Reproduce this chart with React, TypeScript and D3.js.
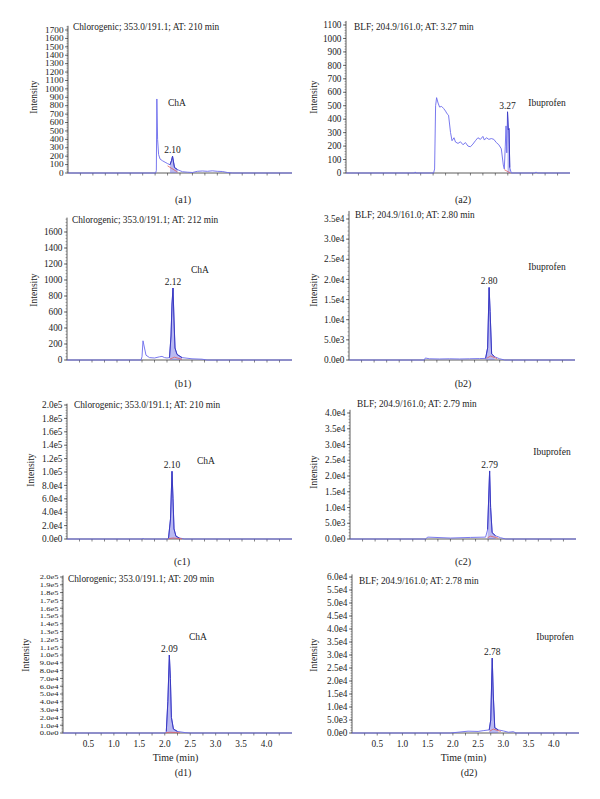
import React from "react";
import * as d3 from "d3";

type Pt = [number, number];

// ---- data (time in min, intensity) ----
const a1Trace: Pt[] = [[0,0],[1.76,0],[1.775,30],[1.785,880],[1.80,400],[1.82,220],[1.85,165],[1.9,145],[1.95,128],[2.0,112],[2.05,98],[2.08,150],[2.10,200],[2.12,130],[2.14,65],[2.2,40],[2.3,15],[2.4,10],[2.5,6],[2.6,20],[2.7,24],[2.8,20],[2.9,26],[3.0,20],[3.1,18],[3.2,6],[3.3,0],[4.5,0]];
const a2Trace: Pt[] = [[0,0],[1.38,0],[1.39,8],[1.40,0],[1.76,0],[1.78,30],[1.80,500],[1.82,560],[1.85,520],[1.88,490],[1.92,495],[1.96,480],[2.0,460],[2.03,440],[2.06,430],[2.1,300],[2.13,240],[2.17,262],[2.2,230],[2.25,220],[2.3,232],[2.35,210],[2.4,226],[2.45,200],[2.5,195],[2.55,215],[2.6,240],[2.65,262],[2.7,250],[2.75,272],[2.78,245],[2.82,262],[2.87,250],[2.92,256],[2.97,250],[3.02,226],[3.07,210],[3.12,180],[3.16,60],[3.18,30],[3.2,200],[3.215,350],[3.23,150],[3.245,455],[3.26,320],[3.275,330],[3.29,40],[3.32,0],[3.8,0],[3.82,8],[3.84,0],[4.5,0]];
const b1Trace: Pt[] = [[0,0],[1.48,0],[1.50,40],[1.52,240],[1.55,150],[1.58,60],[1.65,30],[1.75,25],[1.85,40],[1.9,45],[1.95,30],[2.0,25],[2.05,30],[2.08,300],[2.1,700],[2.12,900],[2.14,500],[2.16,150],[2.2,70],[2.3,30],[2.5,15],[2.7,10],[2.8,0],[4.5,0]];
const b2Trace: Pt[] = [[0,0],[1.5,0],[1.52,500],[1.6,300],[1.8,250],[2.0,300],[2.2,250],[2.4,300],[2.6,350],[2.72,400],[2.76,3000],[2.79,18000],[2.81,12000],[2.84,1500],[2.9,800],[3.0,300],[3.1,0],[4.5,0]];
const c1Trace: Pt[] = [[0,0],[1.5,0],[1.52,800],[1.55,0],[2.0,0],[2.03,1000],[2.07,30000],[2.1,101000],[2.12,60000],[2.14,15000],[2.18,4000],[2.25,1500],[2.35,0],[4.5,0]];
const c2Trace: Pt[] = [[0,0],[1.5,0],[1.55,600],[2.0,300],[2.4,500],[2.7,600],[2.74,3000],[2.78,21600],[2.8,10000],[2.83,2000],[2.9,1000],[3.0,400],[3.1,0],[4.5,0]];
const d1Trace: Pt[] = [[0,0],[2.0,0],[2.03,2000],[2.06,40000],[2.09,100000],[2.11,70000],[2.13,20000],[2.17,5000],[2.25,2000],[2.4,500],[2.5,0],[4.5,0]];
const d2Trace: Pt[] = [[0,0],[1.95,0],[2.1,300],[2.3,700],[2.5,600],[2.6,900],[2.72,1200],[2.75,5000],[2.78,28800],[2.80,15000],[2.83,2000],[2.9,1200],[3.0,800],[3.1,300],[3.2,500],[3.25,0],[4.5,0]];

const titles = ["Chlorogenic; 353.0/191.1; AT: 210 min","BLF; 204.9/161.0; AT: 3.27 min","Chlorogenic; 353.0/191.1; AT: 212 min","BLF; 204.9/161.0; AT: 2.80 min","Chlorogenic; 353.0/191.1; AT: 210 min","BLF; 204.9/161.0; AT: 2.79 min","Chlorogenic; 353.0/191.1; AT: 209 min","BLF; 204.9/161.0; AT: 2.78 min"];
const captions = ["(a1)","(a2)","(b1)","(b2)","(c1)","(c2)","(d1)","(d2)"];
const compounds = ["ChA","Ibuprofen","ChA","Ibuprofen","ChA","Ibuprofen","ChA","Ibuprofen"];
const peakLabels = ["2.10","3.27","2.12","2.80","2.10","2.79","2.09","2.78"];
const peakTimes = [2.10,3.245,2.12,2.79,2.10,2.78,2.09,2.78];
const peakValues = [200,455,900,18000,101000,21600,100000,28800];
const yMaxTicks = [1700,1100,1600,35000,200000,40000,200000,60000];
const yTickSteps = [100,100,200,5000,20000,5000,10000,5000];
const yAxisMax = [1750,1130,1780,37000,202000,41000,202000,61000];
const fillRanges: Pt[] = [[2.05,2.2],[3.235,3.29],[2.05,2.3],[2.72,2.95],[2.03,2.3],[2.72,2.95],[2.02,2.35],[2.72,2.95]];
const baselines: Pt[][] = [[[2.0,85],[2.2,12]],[[3.18,25],[3.3,0]],[[2.06,12],[2.15,35],[2.3,8]],[[2.74,400],[2.82,1000],[2.95,300]],[[2.03,500],[2.12,1500],[2.3,300]],[[2.74,400],[2.8,900],[2.95,300]],[[2.02,300],[2.1,1000],[2.3,200]],[[2.73,700],[2.8,1500],[2.95,600]]];
const xTickLabels = [0.5,1.0,1.5,2.0,2.5,3.0,3.5,4.0];
const traces = [a1Trace,a2Trace,b1Trace,b2Trace,c1Trace,c2Trace,d1Trace,d2Trace];
const sciFormat = [false,false,false,true,true,true,true,true];

// ---- layout (pixels) ----
const layouts = [
  { left: 68, right: 292, zeroY: 173, maxY: 30, titleX: 73, titleY: 30, capX: 183, capY: 203, intX: 34, intY: 97, cmpX: 177, cmpY: 106, font: 8.4, sx: 1.1, sy: 0.95 },
  { left: 346, right: 570, zeroY: 173, maxY: 25, titleX: 354, titleY: 30, capX: 463, capY: 203, intX: 314, intY: 97, cmpX: 547, cmpY: 106, font: 9.3, sx: 1, sy: 1 },
  { left: 67, right: 292, zeroY: 360, maxY: 232, titleX: 72, titleY: 223, capX: 183, capY: 387, intX: 34, intY: 290, cmpX: 200, cmpY: 273, font: 9.3, sx: 1, sy: 1 },
  { left: 349, right: 575, zeroY: 360, maxY: 219, titleX: 355, titleY: 218, capX: 463, capY: 387, intX: 314, intY: 290, cmpX: 547, cmpY: 270, font: 9.3, sx: 1, sy: 1 },
  { left: 67, right: 292, zeroY: 539, maxY: 405, titleX: 74, titleY: 408, capX: 182, capY: 565, intX: 31, intY: 470, cmpX: 206, cmpY: 464, font: 9.3, sx: 1, sy: 1 },
  { left: 350, right: 576, zeroY: 539, maxY: 413, titleX: 357, titleY: 407, capX: 463, capY: 565, intX: 314, intY: 472, cmpX: 552, cmpY: 455, font: 9.3, sx: 1, sy: 1 },
  { left: 63, right: 292, zeroY: 733, maxY: 577, titleX: 68, titleY: 582, capX: 183, capY: 776, intX: 26, intY: 655, cmpX: 198, cmpY: 640, font: 7.4, sx: 1.15, sy: 0.95 },
  { left: 352, right: 579, zeroY: 733, maxY: 577, titleX: 359, titleY: 584, capX: 469, capY: 776, intX: 314, intY: 655, cmpX: 555, cmpY: 640, font: 9.3, sx: 1, sy: 1 },
];

const SERIF = "'Liberation Serif', 'Times New Roman', serif";
const fmtSci = (v: number) => d3.format(".1e")(v).replace("e+", "e");

function Panel({ i }: { i: number }) {
  const L = layouts[i];
  const x = d3.scaleLinear().domain([0, 4.5]).range([L.left, L.right]);
  const y = d3.scaleLinear().domain([0, yMaxTicks[i]]).range([L.zeroY, L.maxY]);
  const data = traces[i];
  const line = d3.line<Pt>().x(d => x(d[0])).y(d => y(d[1]));
  const [f0, f1] = fillRanges[i];
  const peakPts = data.filter(d => d[0] >= f0 && d[0] <= f1);
  const area = d3.area<Pt>().x(d => x(d[0])).y0(y(0)).y1(d => y(d[1]));
  const yTicks = d3.range(0, yMaxTicks[i] + yTickSteps[i] / 2, yTickSteps[i]);
  const minorStep = yTickSteps[i] / 5;
  const yMinor = d3.range(0, yAxisMax[i], minorStep);
  const xMinor = d3.range(0.25, 4.5, 0.25);
  const showX = i >= 6;
  const px = x(peakTimes[i]);
  const py = y(peakValues[i]);
  return (
    <g fontFamily={SERIF} fill="#222">
      {/* y axis */}
      <line x1={L.left} x2={L.left} y1={L.zeroY} y2={y(yAxisMax[i])} stroke="#333" strokeWidth={0.8} />
      {yMinor.map(v => (
        <line key={"m" + v} x1={L.left - 1.5} x2={L.left} y1={y(v)} y2={y(v)} stroke="#555" strokeWidth={0.5} />
      ))}
      {yTicks.map(v => (
        <g key={v}>
          <line x1={L.left - 3} x2={L.left} y1={y(v)} y2={y(v)} stroke="#333" strokeWidth={0.7} />
          <text transform={`translate(${L.left - 4.5},${y(v)}) scale(${L.sx},${L.sy})`} dy="0.34em" textAnchor="end" fontSize={L.font}>
            {sciFormat[i] ? fmtSci(v) : String(v)}
          </text>
        </g>
      ))}
      {/* x axis */}
      <line x1={L.left} x2={L.right} y1={L.zeroY} y2={L.zeroY} stroke="#333" strokeWidth={0.8} />
      {xMinor.map(t => (
        <line key={"x" + t} x1={x(t)} x2={x(t)} y1={L.zeroY} y2={L.zeroY + 2.5} stroke="#333" strokeWidth={0.6} />
      ))}
      {showX && xTickLabels.map(t => (
        <text key={"xl" + t} x={x(t)} y={L.zeroY + 14} textAnchor="middle" fontSize={9.3}>{t.toFixed(1)}</text>
      ))}
      {showX && (
        <text x={(L.left + L.right) / 2 - 2} y={L.zeroY + 28} textAnchor="middle" fontSize={10}>Time (min)</text>
      )}
      {/* intensity label */}
      <text transform={`translate(${L.intX},${L.intY}) rotate(-90)`} dy="0.34em" textAnchor="middle" fontSize={9.5}>Intensity</text>
      {/* title */}
      <text x={L.titleX} y={L.titleY} fontSize={9.3}>{titles[i]}</text>
      {/* peak fill */}
      <path d={area(peakPts) || ""} fill="#7474e4" fillOpacity={0.5} stroke="none" />
      {/* trace */}
      <path d={line(data) || ""} fill="none" stroke="#6a6aec" strokeWidth={0.9} />
      <path d={line(peakPts) || ""} fill="none" stroke="#3a3ac0" strokeWidth={1} />
      {/* integration baseline */}
      <path d={line(baselines[i]) || ""} fill="none" stroke="#e06060" strokeWidth={0.8} />
      {/* labels */}
      <text x={px} y={py - 3} textAnchor="middle" fontSize={9.5}>{peakLabels[i]}</text>
      <text x={L.cmpX} y={L.cmpY} textAnchor="middle" fontSize={9.5}>{compounds[i]}</text>
      <text x={L.capX} y={L.capY} textAnchor="middle" fontSize={10}>{captions[i]}</text>
    </g>
  );
}

export default function App() {
  return (
    <svg width={600} height={799} style={{ position: "absolute", left: 0, top: 0, background: "#fff" }}>
      <rect width={600} height={799} fill="#fff" />
      {layouts.map((_, i) => <Panel key={i} i={i} />)}
    </svg>
  );
}
